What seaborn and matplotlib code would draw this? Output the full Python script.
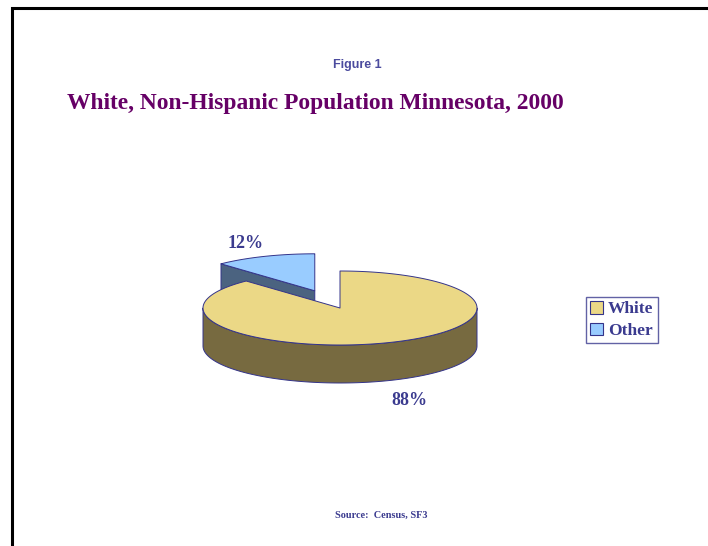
import numpy as np
import matplotlib
matplotlib.use("Agg")
import matplotlib.pyplot as plt
from matplotlib.patches import Polygon, Patch
import seaborn as sns

# Data
categories = ["White", "Other"]
shares = [88, 12]
explode = [0.0, 0.5]
top_colors = ["#EBD886", "#99CCFF"]
side_colors = ["#776A40", "#4B6380"]
label_texts = [f"{v}%" for v in shares]

sns.set_theme(style="white")
plt.rcParams["font.family"] = ["DejaVu Sans"]

W, H = 708, 546
fig = plt.figure(figsize=(W / 100, H / 100), dpi=100)
ax = fig.add_axes([0, 0, 1, 1])
ax.set_xlim(0, W)
ax.set_ylim(H, 0)
ax.axis("off")

navy = "#3B3B8F"
edge_kw = dict(edgecolor="#34348A", linewidth=0.7, joinstyle="round")

# Page frame (top and left rules)
ax.plot([11.5, 11.5, W], [H, 7.5, 7.5], color="black", lw=2.2,
        solid_capstyle="butt", solid_joinstyle="miter")

# 3-D pie geometry
cx, cy = 340.0, 308.0   # centre of the top face
R, r = 137.0, 37.0      # horizontal / vertical semi-axes
depth = 38.0


def pt(theta_deg, ox, oy, dz=0.0):
    t = np.radians(theta_deg)
    return (cx + ox + R * np.cos(t), cy + oy - r * np.sin(t) + dz)


total = float(sum(shares))
start = 90.0
wedges = []
for i, v in enumerate(shares):
    sweep = 360.0 * v / total
    b = start            # clockwise from 12 o'clock
    a = start - sweep
    wedges.append((i, a, b))
    start = a

draw = []
for i, a, b in wedges:
    mid = np.radians((a + b) / 2)
    ox = explode[i] * R * np.cos(mid)
    oy = -explode[i] * r * np.sin(mid)
    draw.append((np.sin(mid), i, a, b, ox, oy))
draw.sort(key=lambda d: -d[0])

label_pos = {}
for _, i, a, b, ox, oy in draw:
    apex = (cx + ox, cy + oy)
    # radial faces
    for ang, vis in ((a, np.cos(np.radians(a)) > 1e-6),
                     (b, np.cos(np.radians(b)) < -1e-6)):
        if vis:
            p = pt(ang, ox, oy)
            quad = [apex, p, (p[0], p[1] + depth), (apex[0], apex[1] + depth)]
            ax.add_patch(Polygon(quad, closed=True, facecolor=side_colors[i], **edge_kw))
    # outer curved side (front half only)
    a_n = a % 360
    b_n = a_n + (b - a)
    for k in (-360, 0, 360):
        lo = max(a_n + k, 180)
        hi = min(b_n + k, 360)
        if hi > lo:
            th = np.linspace(lo, hi, 120)
            upper = [pt(t, ox, oy) for t in th]
            lower = [pt(t, ox, oy, depth) for t in th[::-1]]
            ax.add_patch(Polygon(upper + lower, closed=True,
                                 facecolor=side_colors[i], **edge_kw))
    # top face
    th = np.linspace(a, b, 240)
    poly = [apex] + [pt(t, ox, oy) for t in th]
    ax.add_patch(Polygon(poly, closed=True, facecolor=top_colors[i], **edge_kw))
    # label position along the bisector
    mid = (a + b) / 2
    lx, ly = pt(mid, ox, oy)
    lx = apex[0] + 1.37 * (lx - apex[0])
    ly = apex[1] + 1.37 * (ly - apex[1])
    if np.sin(np.radians(mid)) < 0:
        ly += depth + 7
    label_pos[i] = (lx, ly)

for i, txt in enumerate(label_texts):
    x, y = label_pos[i]
    ax.text(x, y, txt, ha="center", va="center", color=navy,
            fontsize=13, fontweight="bold", family="Liberation Serif")

# Titles and source
fig.text(357 / W, 1 - 65 / H, "Figure 1", ha="center", va="center",
         color="#4B4B9E", fontsize=9, fontweight="bold", family="Liberation Sans")
fig.text(67 / W, 1 - 104 / H, "White, Non-Hispanic Population Minnesota, 2000",
         ha="left", va="center", color="#660066", fontsize=16.9,
         fontweight="bold", family="Liberation Serif")
fig.text(381 / W, 1 - 515 / H, "Source:  Census, SF3", ha="center", va="center",
         color=navy, fontsize=7.4, fontweight="bold", family="Liberation Serif")

# Legend
handles = [Patch(facecolor=top_colors[i], edgecolor="#34348A", linewidth=0.8,
                 label=categories[i]) for i in range(len(categories))]
leg = fig.legend(handles=handles, loc="center left",
                 bbox_to_anchor=(586 / W, 1 - 320 / H),
                 frameon=True, fancybox=False, borderpad=0.25,
                 handlelength=0.75, handleheight=0.75, handletextpad=0.25,
                 labelspacing=0.3, borderaxespad=0,
                 prop={"family": "Liberation Serif", "weight": "bold", "size": 12.5})
leg.get_frame().set_edgecolor(navy)
leg.get_frame().set_linewidth(1.0)
for t in leg.get_texts():
    t.set_color(navy)

fig.savefig("out.png", dpi=100, facecolor="white")
